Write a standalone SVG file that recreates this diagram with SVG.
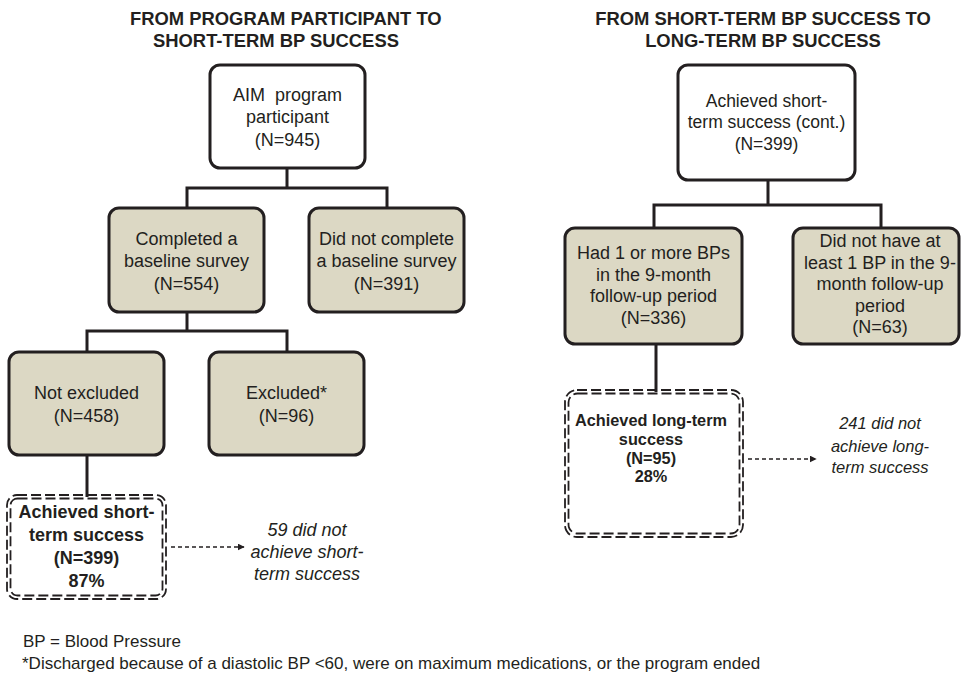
<svg xmlns="http://www.w3.org/2000/svg" width="962" height="676" viewBox="0 0 962 676">
<defs>
<style>
text{font-family:"Liberation Sans",Arial,sans-serif;fill:#231f20}
.t{font-size:18.4px;font-weight:bold}
.n{font-size:18px;text-anchor:middle}
.n2{font-size:17.5px;text-anchor:middle}
.b{font-size:18px;font-weight:bold;text-anchor:middle}
.b2{font-size:16.3px;font-weight:bold;text-anchor:middle}
.i{font-size:18px;font-style:italic;text-anchor:middle}
.i2{font-size:16.5px;font-style:italic;text-anchor:middle}
.f{font-size:17px}
.box{stroke:#231f20;stroke-width:3;fill:#dcd8c4}
.wbox{stroke:#231f20;stroke-width:3;fill:#fff}
.dash{stroke:#231f20;stroke-width:1.8;fill:none;stroke-dasharray:10 4}
.conn{stroke:#231f20;stroke-width:3;fill:none}
.darr{stroke:#231f20;stroke-width:1.5;fill:none;stroke-dasharray:4 3}
</style>
<marker id="ah" viewBox="0 0 10 10" refX="9" refY="5" markerWidth="7" markerHeight="7" markerUnits="userSpaceOnUse" orient="auto">
<path d="M0,0 L10,5 L0,10 z" fill="#231f20"/>
</marker>
</defs>
<rect width="962" height="676" fill="#fff"/>

<g id="titles">
<text class="t" x="130" y="25">FROM PROGRAM PARTICIPANT TO</text>
<text class="t" x="153" y="47">SHORT-TERM BP SUCCESS</text>
<text class="t" x="763" y="25" text-anchor="middle">FROM SHORT-TERM BP SUCCESS TO</text>
<text class="t" x="763" y="47" text-anchor="middle">LONG-TERM BP SUCCESS</text>
</g>

<g id="connectors">
<path class="conn" d="M287,168 V188 M187,208 V188 H387 V208"/>
<path class="conn" d="M187,312 V331 M87,352 V331 H287 V352"/>
<path class="conn" d="M87,455 V497"/>
<path class="conn" d="M768,180 V205 M654,228 V205 H881 V228"/>
<path class="conn" d="M656,344 V392"/>
<path class="darr" d="M171,547 H244" marker-end="url(#ah)"/>
<path class="darr" d="M748,459 H816" marker-end="url(#ah)"/>
</g>

<g id="participant">
<rect class="wbox" x="210" y="65" width="155" height="103" rx="10"/>
<text class="n" x="287.5" y="101" xml:space="preserve">AIM  program</text>
<text class="n" x="287.5" y="123">participant</text>
<text class="n" x="287.5" y="146">(N=945)</text>
</g>

<g id="completed">
<rect class="box" x="109" y="208" width="155" height="104" rx="10"/>
<text class="n" x="186.5" y="245">Completed a</text>
<text class="n" x="186.5" y="267">baseline survey</text>
<text class="n" x="186.5" y="290">(N=554)</text>
</g>

<g id="notcompleted">
<rect class="box" x="309" y="208" width="155" height="104" rx="10"/>
<text class="n" x="386.5" y="245">Did not complete</text>
<text class="n" x="386.5" y="267">a baseline survey</text>
<text class="n" x="386.5" y="290">(N=391)</text>
</g>

<g id="notexcluded">
<rect class="box" x="9" y="352" width="155" height="103" rx="10"/>
<text class="n" x="86.5" y="399">Not excluded</text>
<text class="n" x="86.5" y="422">(N=458)</text>
</g>

<g id="excluded">
<rect class="box" x="209" y="352" width="155" height="103" rx="10"/>
<text class="n" x="286.5" y="399">Excluded*</text>
<text class="n" x="286.5" y="422">(N=96)</text>
</g>

<g id="shortterm">
<rect class="dash" x="7" y="495" width="159" height="104" rx="10"/>
<rect class="dash" x="10.5" y="498.5" width="152" height="97" rx="7"/>
<text class="b" x="86.5" y="518">Achieved short-</text>
<text class="b" x="86.5" y="541">term success</text>
<text class="b" x="86.5" y="564">(N=399)</text>
<text class="b" x="86.5" y="587">87%</text>
</g>

<g id="notshort">
<text class="i" x="307" y="536">59 did not</text>
<text class="i" x="307" y="558">achieve short-</text>
<text class="i" x="307" y="580">term success</text>
</g>

<g id="cont">
<rect class="wbox" x="678" y="65" width="177" height="115" rx="10"/>
<text class="n2" x="766.5" y="107">Achieved short-</text>
<text class="n2" x="766.5" y="128">term success (cont.)</text>
<text class="n2" x="766.5" y="150">(N=399)</text>
</g>

<g id="hadbp">
<rect class="box" x="565" y="228" width="177" height="116" rx="10"/>
<text class="n" x="653.5" y="259">Had 1 or more BPs</text>
<text class="n" x="653.5" y="281">in the 9-month</text>
<text class="n" x="653.5" y="302">follow-up period</text>
<text class="n" x="653.5" y="324">(N=336)</text>
</g>

<g id="nobp">
<rect class="box" x="793" y="228" width="166" height="116" rx="10"/>
<text class="n" x="880" y="247">Did not have at</text>
<text class="n" x="880" y="268.5">least 1 BP in the 9-</text>
<text class="n" x="880" y="290">month follow-up</text>
<text class="n" x="880" y="311.5">period</text>
<text class="n" x="880" y="333">(N=63)</text>
</g>

<g id="longterm">
<rect class="dash" x="565" y="390" width="178" height="147" rx="12"/>
<rect class="dash" x="568.5" y="393.5" width="171" height="140" rx="9"/>
<text class="b2" x="651" y="426">Achieved long-term</text>
<text class="b2" x="651" y="445">success</text>
<text class="b2" x="651" y="464">(N=95)</text>
<text class="b2" x="651" y="482">28%</text>
</g>

<g id="notlong">
<text class="i2" x="880" y="429">241 did not</text>
<text class="i2" x="880" y="452">achieve long-</text>
<text class="i2" x="880" y="473">term success</text>
</g>

<g id="footer">
<text class="f" x="23" y="647">BP = Blood Pressure</text>
<text class="f" x="22" y="669">*Discharged because of a diastolic BP &lt;60, were on maximum medications, or the program ended</text>
</g>
</svg>
